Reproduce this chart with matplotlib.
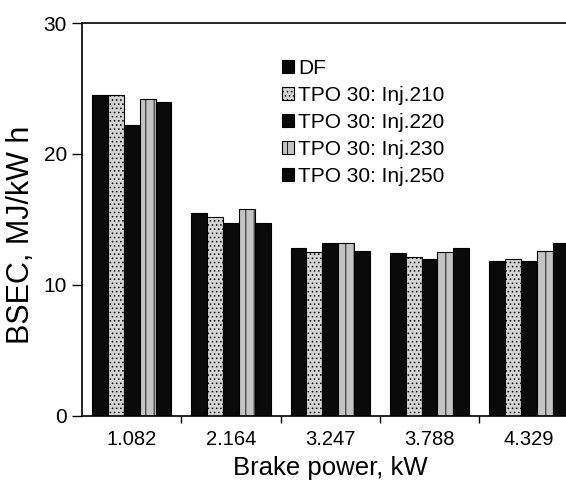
import numpy as np
import matplotlib
matplotlib.use("Agg")
import matplotlib.pyplot as plt

plt.rcParams['font.family'] = ['Liberation Sans', 'DejaVu Sans']
plt.rcParams['hatch.linewidth'] = 0.6

power = ["1.082", "2.164", "3.247", "3.788", "4.329"]
series = ["DF", "TPO 30: Inj.210", "TPO 30: Inj.220", "TPO 30: Inj.230", "TPO 30: Inj.250"]

bsec_df = [24.5, 15.5, 12.8, 12.4, 11.8]
bsec_210 = [24.5, 15.2, 12.5, 12.1, 12.0]
bsec_220 = [22.2, 14.7, 13.2, 12.0, 11.8]
bsec_230 = [24.2, 15.8, 13.2, 12.5, 12.6]
bsec_250 = [24.0, 14.7, 12.6, 12.8, 13.2]

values = [bsec_df, bsec_210, bsec_220, bsec_230, bsec_250]
faces = ['#0a0a0a', '#d4d4d4', '#0a0a0a', '#c4c4c4', '#0a0a0a']
hatches = [None, '....', None, '||', None]

fig = plt.figure(figsize=(5.66, 4.95), dpi=100)
ax = fig.add_axes([0.145, 0.160, 0.877, 0.7935])

x = np.arange(len(power))
w = 0.16
for i, (vals, fc, h) in enumerate(zip(values, faces, hatches)):
    ax.bar(x - 0.4 + w * (i + 0.5), vals, w, color=fc, hatch=h,
           edgecolor='black', linewidth=0.8, label=series[i])

ax.set_xlim(-0.5, 4.5)
ax.set_ylim(0, 30)
ax.set_yticks([0, 10, 20, 30])
ax.tick_params(axis='y', direction='out', length=7, width=1, labelsize=15, pad=4)

# group separators as ticks, labels centred under the groups
ax.set_xticks(np.arange(0.5, 4.5, 1))
ax.set_xticklabels([])
ax.set_xticks(x, minor=True)
ax.set_xticklabels(power, minor=True, fontsize=14.5)
ax.tick_params(axis='x', which='major', direction='out', length=5, width=1)
ax.tick_params(axis='x', which='minor', length=0, pad=10)

for s in ['left', 'bottom', 'top']:
    ax.spines[s].set_linewidth(1.2)
ax.spines['right'].set_visible(False)

ax.set_xlabel("Brake power, kW", fontsize=18.5, labelpad=5)
ax.set_ylabel("BSEC, MJ/kW h", fontsize=22)
ax.yaxis.set_label_coords(-0.092, 0.46)

ax.legend(loc='upper left', bbox_to_anchor=(0.385, 0.93), frameon=False,
          fontsize=15, handlelength=0.6, handleheight=0.6, handletextpad=0.2,
          labelspacing=0.38, borderaxespad=0)

fig.savefig("out.png", dpi=100)
